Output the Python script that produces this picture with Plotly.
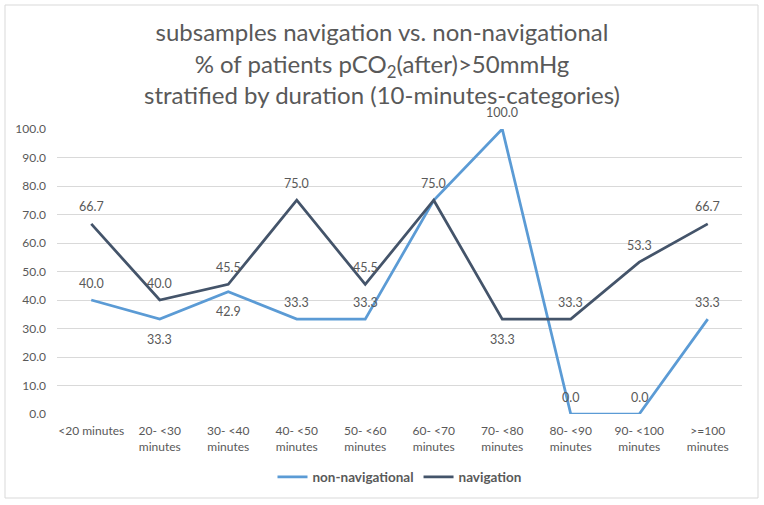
import plotly.graph_objects as go

categories = ["<20 minutes", "20- <30<br>minutes", "30- <40<br>minutes", "40- <50<br>minutes",
              "50- <60<br>minutes", "60- <70<br>minutes", "70- <80<br>minutes", "80- <90<br>minutes",
              "90- <100<br>minutes", ">=100<br>minutes"]
non_navigational = [40.0, 33.3, 42.9, 33.3, 33.3, 75.0, 100.0, 0.0, 0.0, 33.3]
navigation = [66.7, 40.0, 45.5, 75.0, 45.5, 75.0, 33.3, 33.3, 53.3, 66.7]
y_ticks = [0, 10, 20, 30, 40, 50, 60, 70, 80, 90, 100]

# label placement (1 = above, -1 = below)
nonnav_pos = [1, -1, -1, 1, 1, 1, 1, 1, 1, 1]
nav_pos = [1, 1, 1, 1, 1, 1, -1, 1, 1, 1]

FONT = "Lato"
TXT = "#595959"
C_NON = "#5B9BD5"
C_NAV = "#44546A"

fig = go.Figure()
fig.add_trace(go.Scatter(x=categories, y=non_navigational, mode="lines", name="non-navigational",
                         line=dict(color=C_NON, width=2.75)))
fig.add_trace(go.Scatter(x=categories, y=navigation, mode="lines", name="navigation",
                         line=dict(color=C_NAV, width=2.75)))

annotations = []
for vals, pos, skip in ((non_navigational, nonnav_pos, {5}), (navigation, nav_pos, set())):
    for i, (c, v) in enumerate(zip(categories, vals)):
        if i in skip:
            continue
        annotations.append(dict(x=c, y=v, xref="x", yref="y", text=f"{v:.1f}", showarrow=False,
                                yshift=17 if pos[i] > 0 else -20,
                                font=dict(family=FONT, size=12.5, color=TXT)))

fig.update_layout(
    width=764, height=505,
    margin=dict(l=57, r=22, t=129, b=91, autoexpand=False),
    paper_bgcolor="white", plot_bgcolor="white",
    font=dict(family=FONT, size=12, color=TXT),
    title=dict(text="subsamples navigation vs. non-navigational<br>% of patients pCO<sub>2</sub>(after)>50mmHg<br>stratified by duration (10-minutes-categories)",
               x=0.5, xref="container", xanchor="center", y=0.918, yref="container",
               yanchor="top",
               font=dict(family=FONT, size=24, color=TXT)),
    showlegend=True,
    legend=dict(orientation="h", x=0.5, xanchor="center", y=-0.221, yanchor="middle",
                font=dict(family=FONT, size=13.5, color=TXT, weight="bold")),
    annotations=annotations,
    shapes=[dict(type="rect", xref="paper", yref="paper", x0=(5 - 57) / 685, x1=(758 - 57) / 685,
                 y0=(414 - 498) / 285, y1=(414 - 5) / 285, line=dict(color="#D9D9D9", width=1),
                 fillcolor="rgba(0,0,0,0)", layer="below")],
)
fig.update_xaxes(range=[-0.5, 9.5], automargin=False, showgrid=False, showline=False, ticks="",
                 ticklabelstandoff=8, tickfont=dict(size=12, color=TXT))
fig.update_yaxes(range=[0, 100], tickvals=y_ticks, tickformat=".1f", showgrid=True, automargin=False,
                 gridcolor="#D9D9D9", gridwidth=1, zeroline=False, showline=False, ticks="",
                 ticklabelstandoff=10, tickfont=dict(size=12, color=TXT))

fig.write_html("out.html", config={"displayModeBar": False},
               post_script="document.body.style.margin='0';document.body.style.overflow='hidden';")
